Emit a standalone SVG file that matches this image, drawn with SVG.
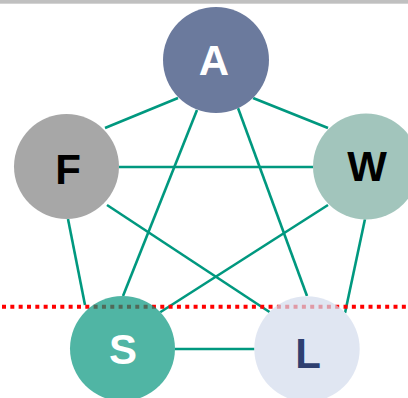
<svg xmlns="http://www.w3.org/2000/svg" width="408" height="398" viewBox="0 0 408 398">
  <style>
    .edge { stroke: #00987f; stroke-width: 2.6; fill: none; }
    .node { fill-opacity: 0.7; }
    .lbl { font-family: "Liberation Sans", Arial, sans-serif; font-weight: bold; font-size: 42px; text-anchor: middle; }
  </style>
  <rect x="0" y="0" width="408" height="3.7" fill="#c0c0c0"/>

  <g id="connectors">
    <line class="edge" x1="178" y1="98" x2="105" y2="128"/>
    <line class="edge" x1="253" y1="98" x2="328" y2="128"/>
    <line class="edge" x1="197" y1="110" x2="123" y2="296"/>
    <line class="edge" x1="238" y1="108" x2="307" y2="296"/>
    <line class="edge" x1="119" y1="167" x2="313" y2="167"/>
    <line class="edge" x1="68" y1="219" x2="85" y2="305"/>
    <line class="edge" x1="107" y1="205" x2="271" y2="313"/>
    <line class="edge" x1="328" y1="205" x2="159" y2="313"/>
    <line class="edge" x1="365" y1="219" x2="345" y2="313"/>
    <line class="edge" x1="175" y1="349" x2="255" y2="349"/>
  </g>

  <!-- white discs keep the node fills clean where connectors meet them -->
  <g fill="#ffffff">
    <circle cx="216" cy="60" r="53"/>
    <circle cx="66.5" cy="166.5" r="52.5"/>
    <circle cx="366" cy="166.5" r="53"/>
    <circle cx="122.5" cy="348.5" r="52.5"/>
    <circle cx="307" cy="349" r="52.7"/>
  </g>

  <line x1="0" y1="306.7" x2="408" y2="306.7" stroke="#ff0000" stroke-width="4" stroke-dasharray="4 4.33" stroke-dashoffset="6.33"/>

  <g id="node-A">
    <circle class="node" cx="216" cy="60" r="53" fill="#2c4173"/>
    <text class="lbl" x="214" y="74.5" fill="#ffffff">A</text>
  </g>
  <g id="node-F">
    <circle class="node" cx="66.5" cy="166.5" r="52.5" fill="#828282"/>
    <text class="lbl" x="68" y="184" fill="#000000">F</text>
  </g>
  <g id="node-W">
    <circle class="node" cx="366" cy="166.5" r="53" fill="#7bad9f"/>
    <text class="lbl" x="367" y="181" fill="#000000">W</text>
  </g>
  <g id="node-S">
    <circle class="node" cx="122.5" cy="348.5" r="52.5" fill="#06957e"/>
    <text class="lbl" x="123" y="364" fill="#ffffff">S</text>
  </g>
  <g id="node-L">
    <circle class="node" cx="307" cy="349" r="52.7" fill="#d3dbec"/>
    <text class="lbl" x="308" y="368" fill="#2e3f70">L</text>
  </g>
</svg>
